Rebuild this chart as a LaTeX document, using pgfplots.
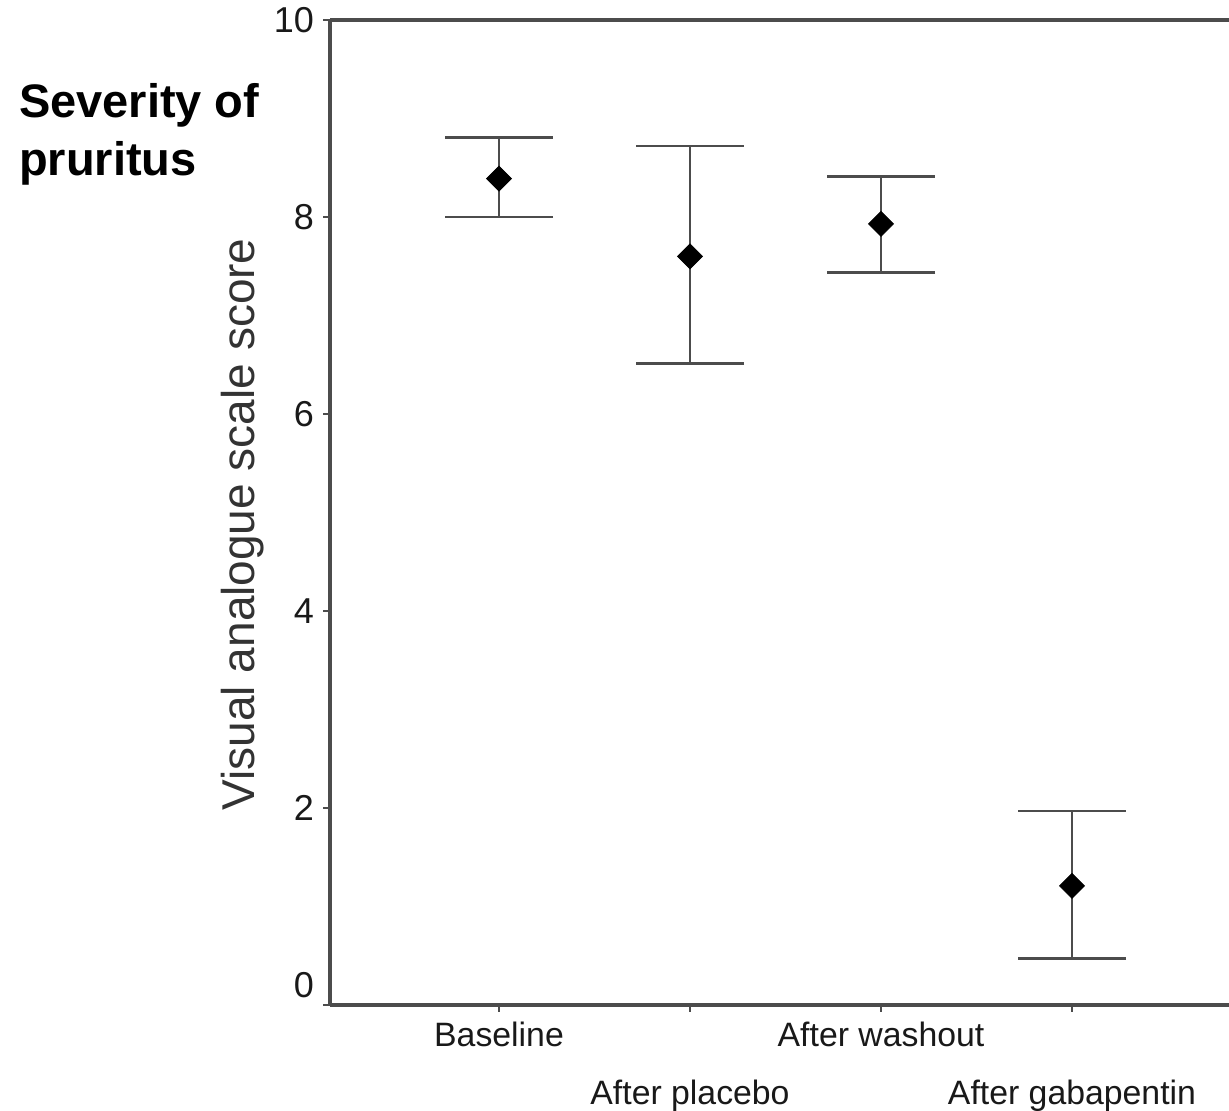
\documentclass[border=0pt]{standalone}
\usepackage{fontspec}
\setmainfont{Liberation Sans}
\usepackage{pgfplots}
\pgfplotsset{compat=1.18}
\begin{document}
\begin{tikzpicture}
\useasboundingbox (-165pt,-53pt) rectangle (449.5pt,502.5pt);
\begin{axis}[
 at={(0,0)}, anchor=south west, scale only axis, width=449.5pt, height=492.5pt,
 xmin=0.1152, xmax=4.822, ymin=0, ymax=10,
 axis x line*=bottom, axis y line*=left,
 axis line style={line width=1.6pt, color=black!70},
 ytick={2,4,6,8,10},
 extra y ticks={0}, extra y tick style={yticklabel style={yshift=10pt}},
 xtick={1,3}, xticklabels={Baseline, After washout},
 extra x ticks={2,4}, extra x tick labels={After placebo, After gabapentin},
 extra x tick style={xticklabel style={yshift=-29pt}},
 tick align=outside, major tick length=3.5pt,
 tick style={line width=1.2pt, color=black!70},
 /pgf/number format/assume math mode=true,
 yticklabel style={font=\fontsize{18}{20}\selectfont, color=black!90, xshift=-1pt},
 xticklabel style={font=\fontsize{16.9}{19}\selectfont, color=black!90, yshift=-1.5pt},
 ylabel={Visual analogue scale score},
 ylabel style={at={(axis description cs:-0.097,0.488)}, anchor=center, font=\fontsize{23}{26}\selectfont, color=black!80},
 clip=false,
]
\addplot[only marks, mark=square*, mark size=4.4pt, mark options={rotate=45, fill=black, draw=black},
  error bars/.cd, y dir=both, y explicit,
  error bar style={line width=1.4pt, color=black!70},
  error mark options={rotate=90, mark size=27pt, line width=1.4pt, color=black!70}]
  table[x=x, y=y, y error plus=ep, y error minus=em] {
x y ep em
1 8.39 0.42 0.39
2 7.60 1.12 1.09
3 7.93 0.48 0.49
4 1.21 0.76 0.74
};
\draw[line width=1.6pt, color=black!70] (rel axis cs:0,1) -- (rel axis cs:1,1);
\end{axis}
\node[anchor=base west, align=left, font=\bfseries\fontsize{23.5}{29}\selectfont] at (-159pt,414.5pt) {Severity of\\pruritus};
\end{tikzpicture}
\end{document}
